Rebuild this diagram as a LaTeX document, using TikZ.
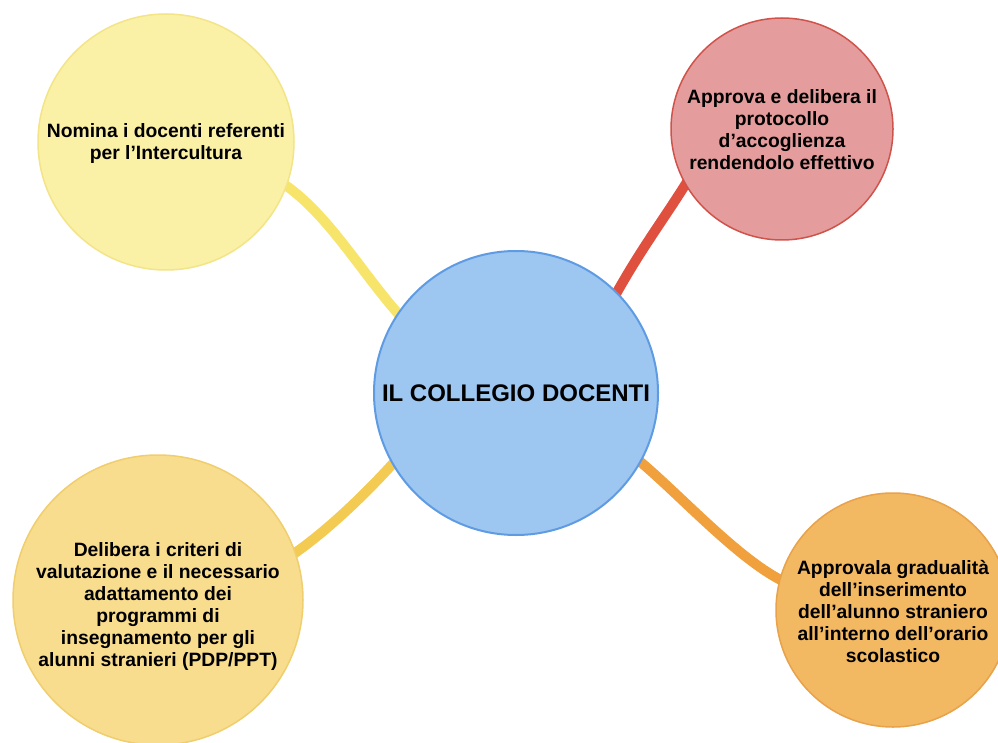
\documentclass[tikz,border=0pt]{standalone}
\usepackage{fontspec}
\setmainfont{Liberation Sans}
\usetikzlibrary{backgrounds}
\definecolor{cfill}{HTML}{9DC6F1}
\definecolor{cline}{HTML}{5E9BE3}
\definecolor{tlfill}{HTML}{FBF1A6}
\definecolor{tlline}{HTML}{F3E488}
\definecolor{trfill}{HTML}{E49C9C}
\definecolor{trline}{HTML}{D0534B}
\definecolor{blfill}{HTML}{F8DD8E}
\definecolor{blline}{HTML}{F0CE6E}
\definecolor{brfill}{HTML}{F2B862}
\definecolor{brline}{HTML}{E8A24A}
\definecolor{ylink}{HTML}{F7E46B}
\definecolor{rlink}{HTML}{E0503F}
\definecolor{glink}{HTML}{F3CB52}
\definecolor{olink}{HTML}{F0A03C}
\begin{document}
\begin{tikzpicture}[x=1pt,y=-1pt,
  bubble/.style={circle, draw, line width=1.5pt, inner sep=0pt},
  txt/.style={align=center, inner sep=0pt, font=\fontsize{19.3}{22}\selectfont\bfseries},
  link/.style={line width=10pt, shorten <=-8pt, shorten >=-8pt}]
\useasboundingbox (0,0) rectangle (998,743);
\node[bubble, minimum size=284pt, fill=cfill, draw=cline, line width=2pt] (c) at (516,393) {};
\node[bubble, minimum size=256pt, fill=tlfill, draw=tlline] (tl) at (166,142) {};
\node[bubble, minimum size=222pt, fill=trfill, draw=trline] (tr) at (782,129) {};
\node[bubble, minimum size=290pt, fill=blfill, draw=blline] (bl) at (158,600) {};
\node[bubble, minimum size=234pt, fill=brfill, draw=brline] (br) at (893,610) {};

\node[txt, font=\fontsize{24}{28}\selectfont\bfseries] (ct) at (c) {IL COLLEGIO DOCENTI};
\node[txt] (tlt) at (166,144) {Nomina i docenti referenti\\per l’Intercultura};
\node[txt] (trt) at (782,130) {Approva e delibera il\\protocollo\\d’accoglienza\\rendendolo effettivo};
\node[txt] (blt) at (158,607) {Delibera i criteri di\\valutazione e il necessario\\adattamento dei\\programmi di\\insegnamento per gli\\alunni stranieri (PDP/PPT)};
\node[txt] (brt) at (893,612) {Approvala gradualità\\dell’inserimento\\dell’alunno straniero\\all’interno dell’orario\\scolastico};

\begin{scope}[on background layer]
\draw[link, draw=ylink] (tl.-20) .. controls +(40,25) and +(-35,-38) .. (c.146);
\draw[link, draw=rlink] (tr.-150) .. controls +(-25,40) and +(25,-45) .. (c.45);
\draw[link, draw=glink] (bl.19) .. controls +(30,-20) and +(-25,28) .. (c.210);
\draw[link, draw=olink] (c.-29) .. controls +(35,28) and +(-40,-18) .. (br.165);
\end{scope}
\end{tikzpicture}
\end{document}
